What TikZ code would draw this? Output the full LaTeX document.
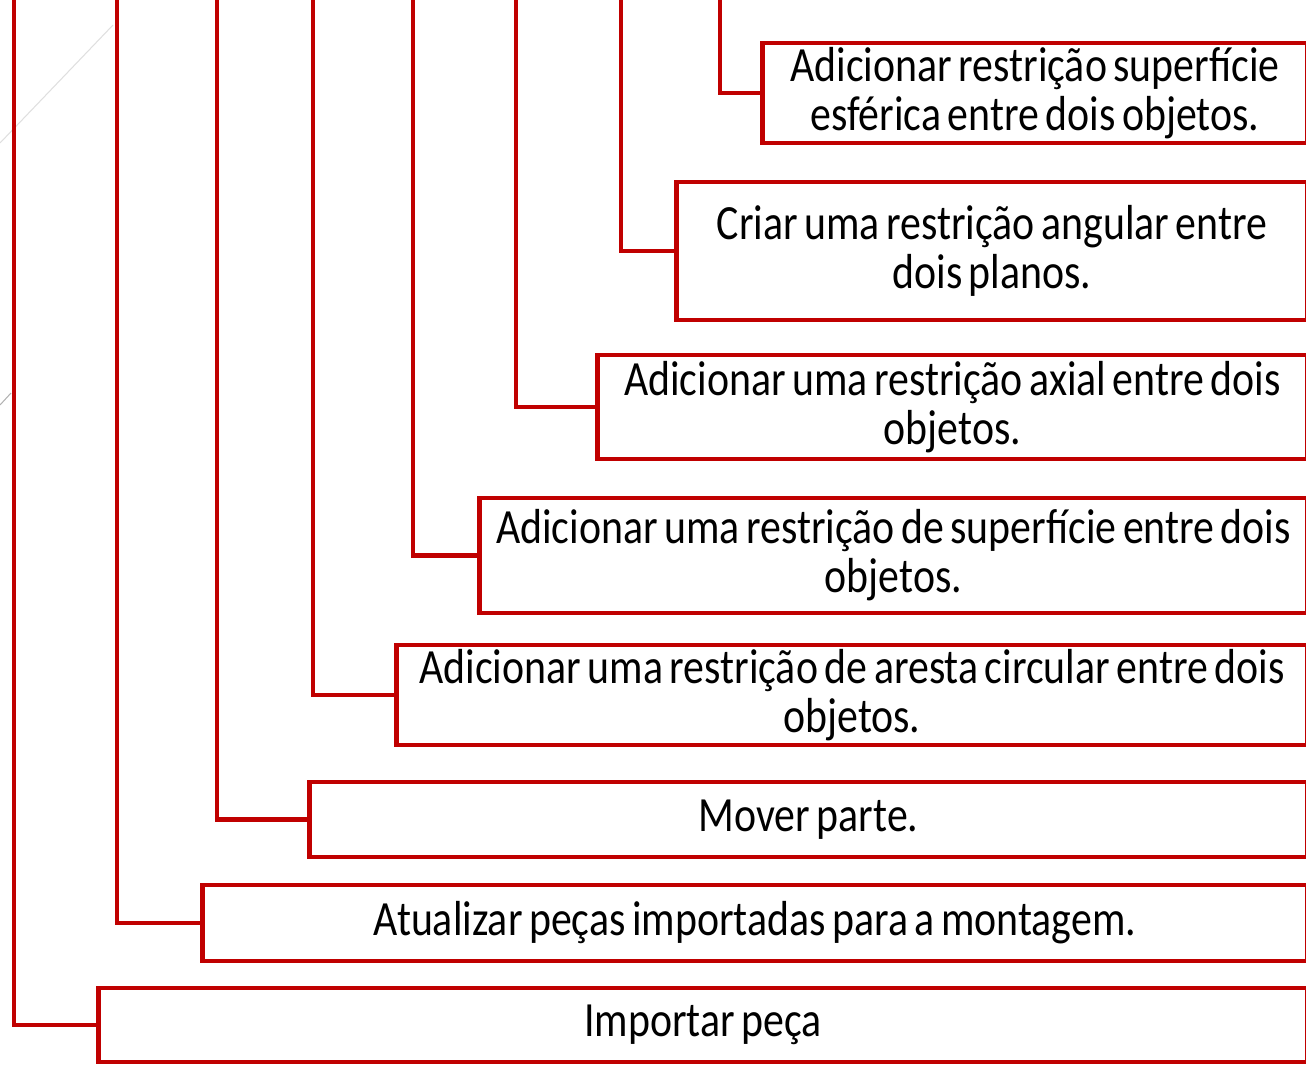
\documentclass[tikz,border=0pt]{standalone}
\usepackage{fontspec}
\setmainfont{Carlito}[FakeStretch=0.85, WordSpace=0.7]
\definecolor{boxred}{RGB}{192,0,0}
\newlength{\pxu}
\setlength{\pxu}{0.02cm}

\begin{document}
\begin{tikzpicture}[x=0.02cm, y=-0.02cm,
  box/.style={draw=boxred, line width=2.8pt, fill=white, inner sep=0pt,
    align=center, font=\fontsize{28}{28}\selectfont},
  link/.style={draw=boxred, line width=2.8pt}]
\useasboundingbox (0,0) rectangle (1306,1066);
\clip (0,0) rectangle (1306,1066);

% background strokes
\draw[gray!25, line width=0.6pt] (113,25) -- (0,143);
\draw[gray!60, line width=0.6pt] (11,393) -- (0,405);

% steps
\node[box, minimum width=545\pxu, minimum height=100\pxu] (esfer) at (1035,93)
  {Adicionar restrição superfície\\esférica entre dois objetos.};
\node[box, minimum width=631\pxu, minimum height=138\pxu] (angular) at (992,251)
  {Criar uma restrição angular entre\\dois planos.};
\node[box, minimum width=710\pxu, minimum height=104\pxu] (axial) at (952.5,407)
  {Adicionar uma restrição axial entre dois\\objetos.};
\node[box, minimum width=828\pxu, minimum height=115\pxu] (superf) at (893.5,555.5)
  {Adicionar uma restrição de superfície entre dois\\objetos.};
\node[box, minimum width=911\pxu, minimum height=100\pxu] (aresta) at (852,695)
  {Adicionar uma restrição de aresta circular entre dois\\objetos.};
\node[box, minimum width=998\pxu, minimum height=75\pxu] (mover) at (808.5,819.5)
  {Mover parte.};
\node[box, minimum width=1105\pxu, minimum height=76\pxu] (atualizar) at (755,923)
  {Atualizar peças importadas para a montagem.};
\node[box, minimum width=1209\pxu, minimum height=74\pxu] (importar) at (703,1025)
  {Importar peça};

% tree lines
\coordinate (t1) at (720,-5);
\coordinate (t2) at (621,-5);
\coordinate (t3) at (516,-5);
\coordinate (t4) at (413,-5);
\coordinate (t5) at (313,-5);
\coordinate (t6) at (217,-5);
\coordinate (t7) at (117,-5);
\coordinate (t8) at (14,-5);
\draw[link] (t1) |- (esfer.west);
\draw[link] (t2) |- (angular.west);
\draw[link] (t3) |- (axial.west);
\draw[link] (t4) |- (superf.west);
\draw[link] (t5) |- (aresta.west);
\draw[link] (t6) |- (mover.west);
\draw[link] (t7) |- (atualizar.west);
\draw[link] (t8) |- (importar.west);

\end{tikzpicture}
\end{document}
